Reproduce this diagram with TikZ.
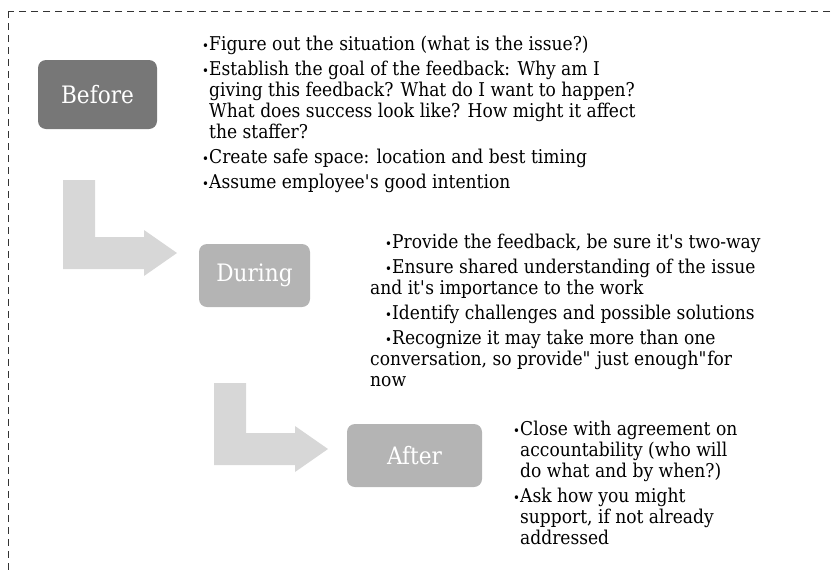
\documentclass[tikz,border=0pt]{standalone}
\usepackage{fontspec}
\setmainfont{DejaVu Serif}[FakeStretch=0.9]
\usetikzlibrary{positioning}
\definecolor{beforegray}{HTML}{777777}
\definecolor{stagegray}{HTML}{B4B4B4}
\definecolor{arrowgray}{HTML}{D7D7D7}
\newcommand{\itm}{\makebox[7pt][l]{\fontsize{13}{13}\selectfont\textbullet}}
\newcommand{\hng}{\hspace*{7pt}}
\newcommand{\q}{\textquotesingle}
\def\bentarrow[#1](#2,#3)(#4){\fill[#1] (#2,#3) -- ++(32,0) -- ++(0,#4-32) -- ++(49,0) -- ++(0,-7) -- ++(33,23) -- ++(-33,23) -- ++(0,-7) -- ++(-81,0) -- cycle;}
\tikzset{
  stagebox/.style={rounded corners=8pt, text=white, inner sep=0pt,
    font=\fontsize{24}{24}\selectfont},
  listtext/.style={anchor=north west, align=left, inner sep=0pt,
    font=\fontsize{19}{21}\selectfont}
}

\begin{document}
\begin{tikzpicture}[x=1pt, y=-1pt]
			%%%%% START %%%%%
			\useasboundingbox (0, 0) rectangle (833, 571);
			\begin{scope}
			\clip (0, 0) rectangle (833, 571);
			\draw[line width=1pt, color=black!80, dash pattern=on 7pt off 5pt] (8, 11) rectangle (850, 600);
			\end{scope}
			
			\bentarrow[arrowgray](63, 180)(89)
			\bentarrow[arrowgray](214, 383)(82)
			
			\node[stagebox, fill=beforegray, minimum width=119pt, minimum height=69pt] (before) at (97.5, 94.5) {Before};
			\node[stagebox, fill=stagegray, minimum width=111pt, minimum height=63pt] (during) at (254.5, 275.5) {During};
			\node[stagebox, fill=stagegray, minimum width=135pt, minimum height=63pt] (after) at (414.5, 455.5) {After};
			
			% first baselines at y = 50, 248, 435
			\node[listtext] (beforelist) at (202, 35.6) {\itm Figure out the situation (what is the issue?)\\[4pt]
				\itm Establish the goal of the feedback: Why am I\\
				\hng giving this feedback? What do I want to happen?\\
				\hng What does success look like? How might it affect\\
				\hng the staffer?\\[4pt]
				\itm Create safe space: location and best timing\\[4pt]
				\itm Assume employee\q s good intention};
			
			\node[listtext] (duringlist) at (370, 233.6) {\hspace*{15pt}\itm Provide the feedback, be sure it\q s two-way\\[4pt]
				\hspace*{15pt}\itm Ensure shared understanding of the issue\\
				and it\q s importance to the work\\[4pt]
				\hspace*{15pt}\itm Identify challenges and possible solutions\\[4pt]
				\hspace*{15pt}\itm Recognize it may take more than one\\
				conversation, so provide\textquotedbl{} just enough\textquotedbl for\\
				now};
			
			\node[listtext] (afterlist) at (513, 420.6) {\itm Close with agreement on\\
				\hng accountability (who will\\
				\hng do what and by when?)\\[4pt]
				\itm Ask how you might\\
				\hng support, if not already\\
				\hng addressed};
			%%%%% END %%%%%
\end{tikzpicture}
\end{document}
